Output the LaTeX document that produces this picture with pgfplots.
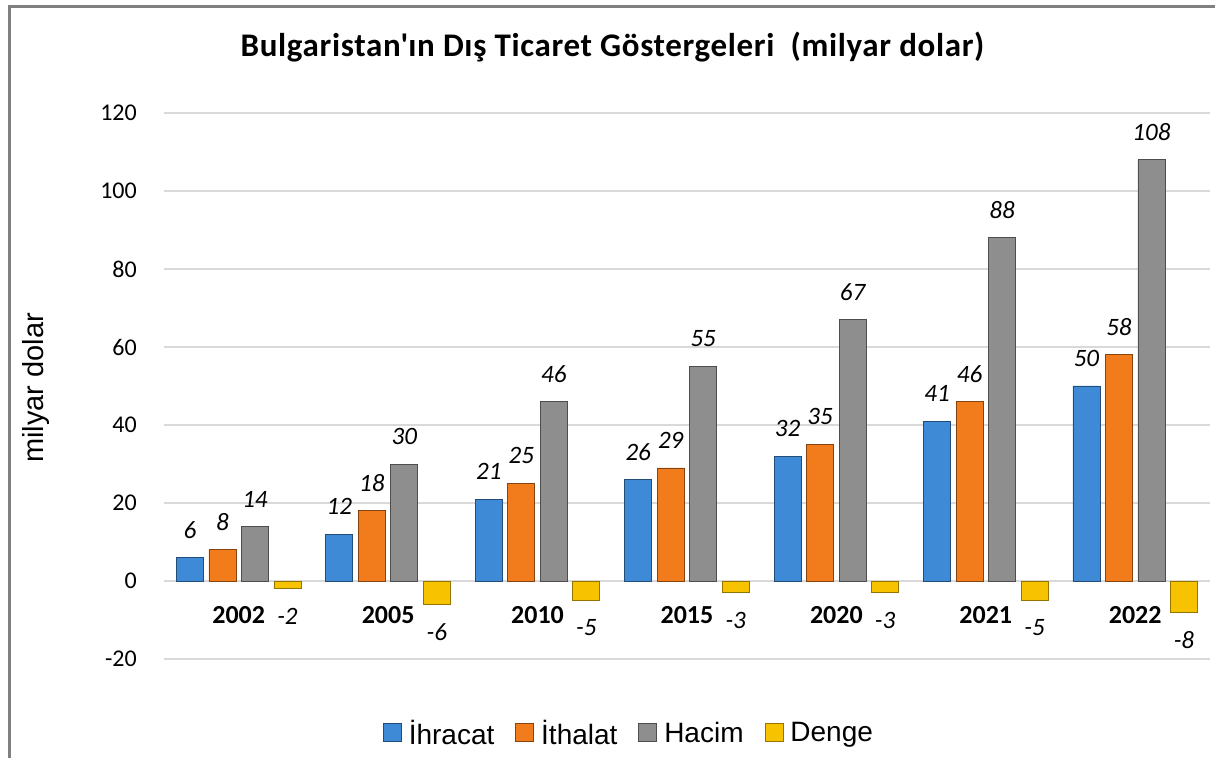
\documentclass[border=0pt]{standalone}
\usepackage{pgfplots}
\pgfplotsset{compat=1.18}
\usepackage{fontspec}
\setmainfont{Carlito}
\newfontfamily\arialfont{Liberation Sans}
\newfontfamily\titlefont[LetterSpace=2]{Carlito}
\definecolor{cblue}{HTML}{3F8AD6}
\definecolor{corange}{HTML}{F27B1B}
\definecolor{cgray}{HTML}{8E8E8E}
\definecolor{cyellow}{HTML}{F7C300}
\definecolor{cgrid}{HTML}{D9D9D9}
\definecolor{cframe}{HTML}{808080}
\begin{document}
\begin{tikzpicture}
\useasboundingbox (0pt,0pt) rectangle (1215pt,758pt);
\fill[white] (0pt,0pt) rectangle (1215pt,758pt);
\begin{axis}[
  at={(164pt,99pt)}, anchor=south west,
  scale only axis, width=1046pt, height=546pt,
  ymin=-20, ymax=120, ytick={-20,0,20,40,60,80,100,120},
  xmin=-0.5, xmax=6.5, xtick={0,1,2,3,4,5,6},
  xticklabels={2002,2005,2010,2015,2020,2021,2022},
  axis line style={draw=none}, major tick length=0pt,
  ymajorgrids, grid style={draw=cgrid, line width=1.5pt},
  /pgf/number format/assume math mode=true,
  yticklabel style={font=\fontsize{24}{28}\selectfont, anchor=east, xshift=-24pt, inner sep=3pt},
  xticklabel style={font=\fontsize{26}{30}\selectfont\bfseries, anchor=center, yshift=44pt, inner sep=0pt},
  ybar=5.5pt, bar width=27pt,
  nodes near coords,
  every node near coord/.append style={font=\fontsize{25}{30}\selectfont\itshape, black, inner xsep=0pt, inner ysep=19pt},
  legend columns=4,
  legend style={draw=none, fill=none, at={(rel axis cs:0.4436,-0.1355)}, anchor=center,
    font=\arialfont\fontsize{28}{33}\selectfont, nodes={inner sep=0pt},
    /tikz/every odd column/.append style={column sep=7pt},
    /tikz/every even column/.append style={column sep=21pt}},
  legend image code/.code={\draw[#1] (0pt,-8pt) rectangle (18pt,10pt);},
]
\addplot[draw=cblue!55!black, line width=0.8pt, fill=cblue]
  coordinates {(0,6) (1,12) (2,21) (3,26) (4,32) (5,41) (6,50)};
\addplot[draw=corange!55!black, line width=0.8pt, fill=corange]
  coordinates {(0,8) (1,18) (2,25) (3,29) (4,35) (5,46) (6,58)};
\addplot[draw=cgray!55!black, line width=0.8pt, fill=cgray]
  coordinates {(0,14) (1,30) (2,46) (3,55) (4,67) (5,88) (6,108)};
\addplot[draw=cyellow!60!black, line width=0.8pt, fill=cyellow]
  coordinates {(0,-2) (1,-6) (2,-5) (3,-3) (4,-3) (5,-5) (6,-8)};
\legend{İhracat, İthalat, Hacim, Denge}
\end{axis}
\node[font=\titlefont\fontsize{33}{38}\selectfont\bfseries, anchor=base, inner sep=0pt] at (612.5pt,701pt) {Bulgaristan\textquotesingle ın Dış Ticaret Göstergeleri\ \ (milyar dolar)};
\node[font=\arialfont\fontsize{29}{34}\selectfont, rotate=90, anchor=base, inner sep=0pt] at (43pt,370pt) {milyar dolar};
\draw[cframe, line width=3pt] (9pt,0pt) -- (9pt,751.5pt) -- (1215pt,751.5pt);
\end{tikzpicture}
\end{document}
